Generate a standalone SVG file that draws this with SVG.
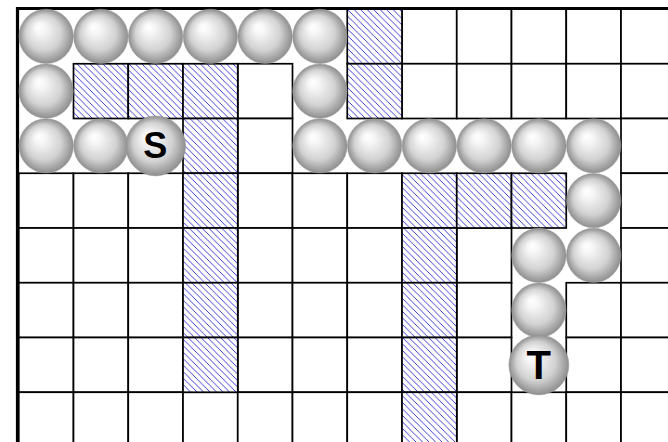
<svg xmlns="http://www.w3.org/2000/svg" width="668" height="442" viewBox="0 0 668 442">
<defs>
<pattern id="hatch" patternUnits="userSpaceOnUse" width="6.5" height="6.5">
<rect width="6.5" height="6.5" fill="#fff"/>
<path d="M-1,-1 L7.5,7.5 M-1,5.5 L1,7.5 M5.5,-1 L7.5,1" stroke="#2626d0" stroke-width="0.9" fill="none"/>
</pattern>
<radialGradient id="ball" cx="50%" cy="50%" r="50%" fx="36%" fy="32%">
<stop offset="0" stop-color="#ffffff"/>
<stop offset="0.2" stop-color="#f6f6f6"/>
<stop offset="0.65" stop-color="#d2d2d2"/>
<stop offset="1" stop-color="#8e8e8e"/>
</radialGradient>
</defs>
<style>
.c{fill:#fff;stroke:#000;stroke-width:1.7}
.h{fill:url(#hatch);stroke:#000;stroke-width:1.7}
.b{fill:url(#ball);stroke:#9a9a9a;stroke-width:0.5}
.lbl{font-family:"Liberation Sans",Arial,sans-serif;font-weight:bold;fill:#000;text-anchor:middle}
</style>
<rect width="668" height="442" fill="#fff"/>
<g id="grid">
<rect class="c" x="402" y="9" width="54.75" height="54.75"/>
<rect class="c" x="456.75" y="9" width="54.75" height="54.75"/>
<rect class="c" x="511.5" y="9" width="54.75" height="54.75"/>
<rect class="c" x="566.25" y="9" width="54.75" height="54.75"/>
<rect class="c" x="621" y="9" width="54.75" height="54.75"/>
<rect class="c" x="237.75" y="63.75" width="54.75" height="54.75"/>
<rect class="c" x="402" y="63.75" width="54.75" height="54.75"/>
<rect class="c" x="456.75" y="63.75" width="54.75" height="54.75"/>
<rect class="c" x="511.5" y="63.75" width="54.75" height="54.75"/>
<rect class="c" x="566.25" y="63.75" width="54.75" height="54.75"/>
<rect class="c" x="621" y="63.75" width="54.75" height="54.75"/>
<rect class="c" x="237.75" y="118.5" width="54.75" height="54.75"/>
<rect class="c" x="621" y="118.5" width="54.75" height="54.75"/>
<rect class="c" x="18.75" y="173.25" width="54.75" height="54.75"/>
<rect class="c" x="73.5" y="173.25" width="54.75" height="54.75"/>
<rect class="c" x="128.25" y="173.25" width="54.75" height="54.75"/>
<rect class="c" x="237.75" y="173.25" width="54.75" height="54.75"/>
<rect class="c" x="292.5" y="173.25" width="54.75" height="54.75"/>
<rect class="c" x="347.25" y="173.25" width="54.75" height="54.75"/>
<rect class="c" x="621" y="173.25" width="54.75" height="54.75"/>
<rect class="c" x="18.75" y="228" width="54.75" height="54.75"/>
<rect class="c" x="73.5" y="228" width="54.75" height="54.75"/>
<rect class="c" x="128.25" y="228" width="54.75" height="54.75"/>
<rect class="c" x="237.75" y="228" width="54.75" height="54.75"/>
<rect class="c" x="292.5" y="228" width="54.75" height="54.75"/>
<rect class="c" x="347.25" y="228" width="54.75" height="54.75"/>
<rect class="c" x="456.75" y="228" width="54.75" height="54.75"/>
<rect class="c" x="621" y="228" width="54.75" height="54.75"/>
<rect class="c" x="18.75" y="282.75" width="54.75" height="54.75"/>
<rect class="c" x="73.5" y="282.75" width="54.75" height="54.75"/>
<rect class="c" x="128.25" y="282.75" width="54.75" height="54.75"/>
<rect class="c" x="237.75" y="282.75" width="54.75" height="54.75"/>
<rect class="c" x="292.5" y="282.75" width="54.75" height="54.75"/>
<rect class="c" x="347.25" y="282.75" width="54.75" height="54.75"/>
<rect class="c" x="456.75" y="282.75" width="54.75" height="54.75"/>
<rect class="c" x="566.25" y="282.75" width="54.75" height="54.75"/>
<rect class="c" x="621" y="282.75" width="54.75" height="54.75"/>
<rect class="c" x="18.75" y="337.5" width="54.75" height="54.75"/>
<rect class="c" x="73.5" y="337.5" width="54.75" height="54.75"/>
<rect class="c" x="128.25" y="337.5" width="54.75" height="54.75"/>
<rect class="c" x="237.75" y="337.5" width="54.75" height="54.75"/>
<rect class="c" x="292.5" y="337.5" width="54.75" height="54.75"/>
<rect class="c" x="347.25" y="337.5" width="54.75" height="54.75"/>
<rect class="c" x="456.75" y="337.5" width="54.75" height="54.75"/>
<rect class="c" x="566.25" y="337.5" width="54.75" height="54.75"/>
<rect class="c" x="621" y="337.5" width="54.75" height="54.75"/>
<rect class="c" x="18.75" y="392.25" width="54.75" height="54.75"/>
<rect class="c" x="73.5" y="392.25" width="54.75" height="54.75"/>
<rect class="c" x="128.25" y="392.25" width="54.75" height="54.75"/>
<rect class="c" x="183" y="392.25" width="54.75" height="54.75"/>
<rect class="c" x="237.75" y="392.25" width="54.75" height="54.75"/>
<rect class="c" x="292.5" y="392.25" width="54.75" height="54.75"/>
<rect class="c" x="347.25" y="392.25" width="54.75" height="54.75"/>
<rect class="c" x="456.75" y="392.25" width="54.75" height="54.75"/>
<rect class="c" x="511.5" y="392.25" width="54.75" height="54.75"/>
<rect class="c" x="566.25" y="392.25" width="54.75" height="54.75"/>
<rect class="c" x="621" y="392.25" width="54.75" height="54.75"/>
</g>
<g id="obstacles">
<rect class="h" x="347.25" y="9" width="54.75" height="54.75"/>
<rect class="h" x="73.5" y="63.75" width="54.75" height="54.75"/>
<rect class="h" x="128.25" y="63.75" width="54.75" height="54.75"/>
<rect class="h" x="183" y="63.75" width="54.75" height="54.75"/>
<rect class="h" x="347.25" y="63.75" width="54.75" height="54.75"/>
<rect class="h" x="183" y="118.5" width="54.75" height="54.75"/>
<rect class="h" x="183" y="173.25" width="54.75" height="54.75"/>
<rect class="h" x="402" y="173.25" width="54.75" height="54.75"/>
<rect class="h" x="456.75" y="173.25" width="54.75" height="54.75"/>
<rect class="h" x="511.5" y="173.25" width="54.75" height="54.75"/>
<rect class="h" x="183" y="228" width="54.75" height="54.75"/>
<rect class="h" x="402" y="228" width="54.75" height="54.75"/>
<rect class="h" x="183" y="282.75" width="54.75" height="54.75"/>
<rect class="h" x="402" y="282.75" width="54.75" height="54.75"/>
<rect class="h" x="183" y="337.5" width="54.75" height="54.75"/>
<rect class="h" x="402" y="337.5" width="54.75" height="54.75"/>
<rect class="h" x="402" y="392.25" width="54.75" height="54.75"/>
</g>
<g id="border">
<path d="M17.5,442 V8.5 H668" fill="none" stroke="#000" stroke-width="3.2"/>
</g>
<g id="connectors"></g>
<g id="p0-0"><circle class="b" cx="46.13" cy="36.38" r="27.2"/></g>
<g id="p0-1"><circle class="b" cx="100.88" cy="36.38" r="27.2"/></g>
<g id="p0-2"><circle class="b" cx="155.63" cy="36.38" r="27.2"/></g>
<g id="p0-3"><circle class="b" cx="210.38" cy="36.38" r="27.2"/></g>
<g id="p0-4"><circle class="b" cx="265.13" cy="36.38" r="27.2"/></g>
<g id="p0-5"><circle class="b" cx="319.88" cy="36.38" r="27.2"/></g>
<g id="p1-0"><circle class="b" cx="46.13" cy="91.13" r="27.2"/></g>
<g id="p1-5"><circle class="b" cx="319.88" cy="91.13" r="27.2"/></g>
<g id="p2-0"><circle class="b" cx="46.13" cy="145.88" r="27.2"/></g>
<g id="p2-1"><circle class="b" cx="100.88" cy="145.88" r="27.2"/></g>
<g id="p2-5"><circle class="b" cx="319.88" cy="145.88" r="27.2"/></g>
<g id="p2-6"><circle class="b" cx="374.63" cy="145.88" r="27.2"/></g>
<g id="p2-7"><circle class="b" cx="429.38" cy="145.88" r="27.2"/></g>
<g id="p2-8"><circle class="b" cx="484.13" cy="145.88" r="27.2"/></g>
<g id="p2-9"><circle class="b" cx="538.88" cy="145.88" r="27.2"/></g>
<g id="p2-10"><circle class="b" cx="593.63" cy="145.88" r="27.2"/></g>
<g id="p3-10"><circle class="b" cx="593.63" cy="200.63" r="27.2"/></g>
<g id="p4-9"><circle class="b" cx="538.88" cy="255.38" r="27.2"/></g>
<g id="p4-10"><circle class="b" cx="593.63" cy="255.38" r="27.2"/></g>
<g id="p5-9"><circle class="b" cx="538.88" cy="310.13" r="27.2"/></g>
<g id="start"><circle class="b" cx="155.63" cy="145.88" r="30"/><text class="lbl" x="155.3" y="157.5" font-size="36">S</text></g>
<g id="target"><circle class="b" cx="538.88" cy="364.88" r="30"/><text class="lbl" x="538.8" y="379" font-size="40">T</text></g>
</svg>
